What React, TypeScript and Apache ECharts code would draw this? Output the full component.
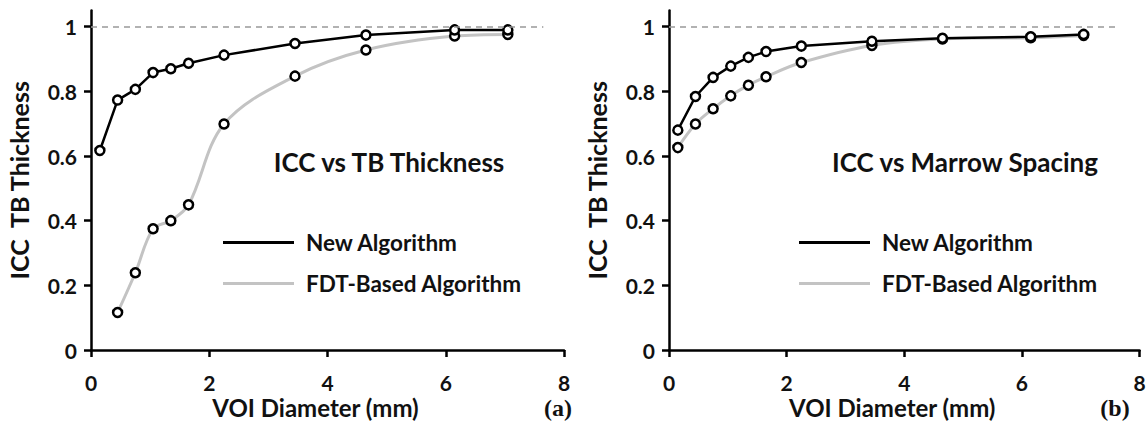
import React, { useEffect, useRef } from "react";
import * as echarts from "echarts";

const voiDiameter = [0.15, 0.45, 0.75, 1.05, 1.35, 1.65, 2.25, 3.45, 4.65, 6.15, 7.05];
// (a) ICC vs TB Thickness
const thicknessNew = [0.617, 0.773, 0.806, 0.858, 0.87, 0.887, 0.912, 0.948, 0.974, 0.99, 0.99];
const thicknessFdt = [null, 0.116, 0.239, 0.375, 0.4, 0.449, 0.699, 0.847, 0.928, 0.971, 0.976];
// (b) ICC vs Marrow Spacing
const spacingNew = [0.68, 0.784, 0.843, 0.878, 0.905, 0.923, 0.94, 0.955, 0.964, 0.969, 0.976];
const spacingFdt = [0.626, 0.699, 0.746, 0.786, 0.819, 0.845, 0.889, 0.942, 0.962, 0.966, 0.973];

const yTicks = [0, 0.2, 0.4, 0.6, 0.8, 1];
const seriesNames = ["New Algorithm", "FDT-Based Algorithm"];
const panelTitles = ["ICC vs TB Thickness", "ICC vs Marrow Spacing"];
const panelLabels = ["(a)", "(b)"];
const xName = "VOI Diameter (mm)";
const yName = "ICC  TB Thickness";

const FONT = "Lato";
const TXT = "#111";
const GRAY = "#c3c3c3";

function pairs(xs: number[], ys: (number | null)[]) {
  const out: [number, number][] = [];
  xs.forEach((x, i) => {
    const y = ys[i];
    if (y !== null && y !== undefined) out.push([x, y]);
  });
  return out;
}

export default function App() {
  const ref = useRef<HTMLDivElement>(null);
  useEffect(() => {
    if (!ref.current) return;
    const chart = echarts.init(ref.current, null, { renderer: "svg" });
    const grids = [
      { left: 91, top: 10.5, width: 473, height: 339.5, outerBoundsMode: "none", containLabel: false },
      { left: 669, top: 10.5, width: 470.5, height: 339.5, outerBoundsMode: "none", containLabel: false },
    ];
    const xAxes = grids.map((_, i) => ({
      type: "value",
      gridIndex: i,
      min: 0,
      max: 8,
      interval: 2,
      name: xName,
      nameLocation: "middle",
      nameGap: 46,
      nameMoveOverlap: false,
      nameTextStyle: {
        fontFamily: FONT, fontWeight: "bold", fontSize: 24, lineHeight: 22, color: TXT,
        padding: [0, 24, 0, 0],
      },
      axisLine: { show: true, onZero: false, lineStyle: { color: "#000", width: 2.5 } },
      axisTick: { show: true, length: 7, lineStyle: { color: "#000", width: 2.5 } },
      axisLabel: { margin: 22, fontFamily: FONT, fontWeight: "bold", fontSize: 21, lineHeight: 20, color: TXT },
      splitLine: { show: false },
    }));
    const yAxes = grids.map((_, i) => ({
      type: "value",
      gridIndex: i,
      min: 0,
      max: 1.05,
      name: yName,
      nameLocation: "middle",
      nameGap: 60,
      nameMoveOverlap: false,
      nameTextStyle: { fontFamily: FONT, fontWeight: "bold", fontSize: 25, lineHeight: 25, color: TXT },
      axisLine: { show: true, lineStyle: { color: "#000", width: 2.5 } },
      axisTick: { show: true, length: 7, customValues: yTicks, lineStyle: { color: "#000", width: 2.5 } },
      axisLabel: {
        margin: 14, customValues: yTicks, fontFamily: FONT, fontWeight: "bold", fontSize: 21, color: TXT,
      },
      splitLine: { show: false },
    }));

    const mkSeries = (name: string, i: number, data: [number, number][], gray: boolean, withRef: boolean) => ({
      type: "line",
      name,
      xAxisIndex: i,
      yAxisIndex: i,
      data,
      smooth: gray ? 0.35 : false,
      symbol: "circle",
      symbolSize: 9,
      z: gray ? 2 : 3,
      lineStyle: { color: gray ? GRAY : "#000", width: gray ? 3 : 2.5 },
      itemStyle: { color: "#fff", borderColor: "#000", borderWidth: 2.5 },
      emphasis: { disabled: true },
      markLine: withRef
        ? {
            silent: true,
            symbol: "none",
            label: { show: false },
            lineStyle: { color: "#999", type: [6, 5], width: 1.5 },
            data: [[{ coord: [0, 1] }, { coord: [7.65, 1] }]],
          }
        : undefined,
    });

    const series = [
      mkSeries(seriesNames[1], 0, pairs(voiDiameter, thicknessFdt), true, false),
      mkSeries(seriesNames[0], 0, pairs(voiDiameter, thicknessNew), false, true),
      mkSeries(seriesNames[1], 1, pairs(voiDiameter, spacingFdt), true, false),
      mkSeries(seriesNames[0], 1, pairs(voiDiameter, spacingNew), false, true),
    ];

    const legendAt = (left: number) => ({
      left,
      top: 231,
      padding: 0,
      orient: "vertical",
      icon: "rect",
      itemWidth: 71,
      itemHeight: 3,
      itemGap: 18,
      selectedMode: false,
      formatter: (n: string) => `{t|${n}}`,
      textStyle: {
        fontFamily: FONT, fontWeight: "bold", fontSize: 22.5, lineHeight: 22, color: TXT,
        rich: {
          t: {
            fontFamily: FONT, fontWeight: "bold", fontSize: 22.5, lineHeight: 22, color: TXT,
            padding: [0, 0, 0, 7],
          },
        },
      },
      data: [
        { name: seriesNames[0], itemStyle: { color: "#000", borderWidth: 0 } },
        { name: seriesNames[1], itemStyle: { color: GRAY, borderWidth: 0 } },
      ],
    });

    const titleCenters = [389, 965];
    const labelCenters = [558, 1115];

    chart.setOption({
      animation: false,
      backgroundColor: "#fff",
      grid: grids,
      xAxis: xAxes,
      yAxis: yAxes,
      series,
      legend: [legendAt(223), legendAt(799)],
      graphic: [
        ...panelTitles.map((t, i) => ({
          type: "text",
          x: titleCenters[i],
          y: 162,
          style: {
            text: t, fontFamily: FONT, fontWeight: "bold", fontSize: 26, fill: TXT,
            align: "center", verticalAlign: "middle",
          },
        })),
        ...panelLabels.map((t, i) => ({
          type: "text",
          x: labelCenters[i],
          y: 408,
          style: {
            text: t, fontFamily: "Liberation Serif", fontWeight: "bold", fontSize: 24, lineHeight: 20, fill: TXT,
            align: "center", verticalAlign: "middle",
          },
        })),
      ],
    });
    return () => chart.dispose();
  }, []);
  return (
    <div
      ref={ref}
      style={{ position: "fixed", left: 0, top: 0, width: 1148, height: 421, background: "#fff" }}
    />
  );
}
